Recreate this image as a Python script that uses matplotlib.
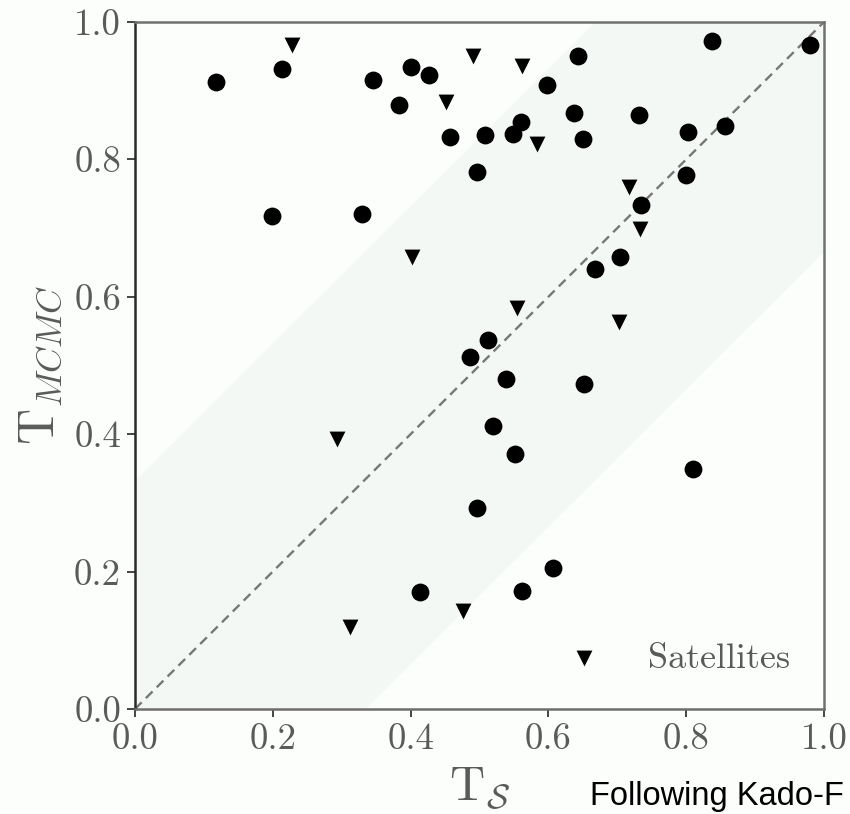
import numpy as np
import matplotlib
matplotlib.use("Agg")
import matplotlib.pyplot as plt

# Central galaxies: (T_S, T_MCMC)
central_ts = [0.118, 0.214, 0.199, 0.329, 0.346, 0.383, 0.400, 0.427, 0.457, 0.508,
              0.497, 0.643, 0.837, 0.979, 0.598, 0.637, 0.732, 0.802, 0.857, 0.650,
              0.560, 0.548, 0.800, 0.735, 0.704, 0.668, 0.513, 0.486, 0.538, 0.652,
              0.520, 0.552, 0.810, 0.497, 0.606, 0.414, 0.562]
central_tm = [0.913, 0.931, 0.718, 0.721, 0.916, 0.879, 0.934, 0.923, 0.833, 0.836,
              0.782, 0.950, 0.973, 0.967, 0.908, 0.868, 0.864, 0.840, 0.848, 0.830,
              0.854, 0.837, 0.777, 0.734, 0.658, 0.641, 0.537, 0.513, 0.481, 0.473,
              0.412, 0.371, 0.349, 0.292, 0.205, 0.170, 0.172]

# Satellite galaxies
sat_ts = [0.228, 0.490, 0.451, 0.402, 0.562, 0.583, 0.717, 0.733, 0.293, 0.554,
          0.702, 0.312, 0.476]
sat_tm = [0.966, 0.950, 0.883, 0.658, 0.936, 0.823, 0.760, 0.698, 0.393, 0.583,
          0.564, 0.120, 0.142]

band_halfwidth = 1.0 / 3.0
ticks = [0.0, 0.2, 0.4, 0.6, 0.8, 1.0]
tick_labels = ["0.0", "0.2", "0.4", "0.6", "0.8", "1.0"]

plt.rcParams["font.family"] = ["cmr10", "DejaVu Serif"]
plt.rcParams["mathtext.fontset"] = "cm"
plt.rcParams["axes.formatter.use_mathtext"] = True

bg = "#fbfefb"
fig = plt.figure(figsize=(8.5, 8.14), dpi=100, facecolor=bg)
ax = fig.add_axes([0.1588, 0.129, 0.8106, 0.844])
ax.set_facecolor(bg)

# one-to-one relation and the +/- 1/3 band around it
xs = np.linspace(0, 1, 301)
ax.fill_between(xs, np.clip(xs - band_halfwidth, 0, 1), np.clip(xs + band_halfwidth, 0, 1),
                color="#f4f8f4", lw=0, zorder=0)
ax.plot([0, 1], [0, 1], ls=(0, (4, 2.5)), color="#777777", lw=1.7, zorder=1)

ax.scatter(central_ts, central_tm, s=165, marker="o", color="black", lw=0, zorder=3)
ax.scatter(sat_ts, sat_tm, s=130, marker="v", color="black", lw=0, zorder=3,
           label="Satellites")

ax.set_xlim(0, 1)
ax.set_ylim(0, 1)
ax.set_xticks(ticks)
ax.set_xticklabels(tick_labels)
ax.set_yticks(ticks)
ax.set_yticklabels(tick_labels)

txt_color = "#5a5a5a"
ax.tick_params(direction="out", length=6, width=1.4, labelsize=26.5,
               labelcolor=txt_color, color="#444444", top=False, right=False, pad=4)

for side, col in (("left", "#2a2a2a"), ("bottom", "#6e6e6e"),
                  ("top", "#707070"), ("right", "#707070")):
    ax.spines[side].set_color(col)
    ax.spines[side].set_linewidth(1.8)

ax.set_xlabel(r"$\mathrm{T}_{\mathcal{S}}$", fontsize=35, color=txt_color, labelpad=7)
ax.set_ylabel(r"$\mathrm{T}_{MCMC}$", fontsize=36, color=txt_color, labelpad=7)

leg = ax.legend(loc="lower right", frameon=False, fontsize=26, handletextpad=0.75,
                borderaxespad=0.55, scatterpoints=1)
for t in leg.get_texts():
    t.set_color(txt_color)

fig.text(590 / 850, 1 - 805 / 814, "Following Kado-F", fontsize=23.5,
         family="Liberation Sans", color="black", va="baseline", ha="left")

fig.savefig("out.png", dpi=100, facecolor=bg)
